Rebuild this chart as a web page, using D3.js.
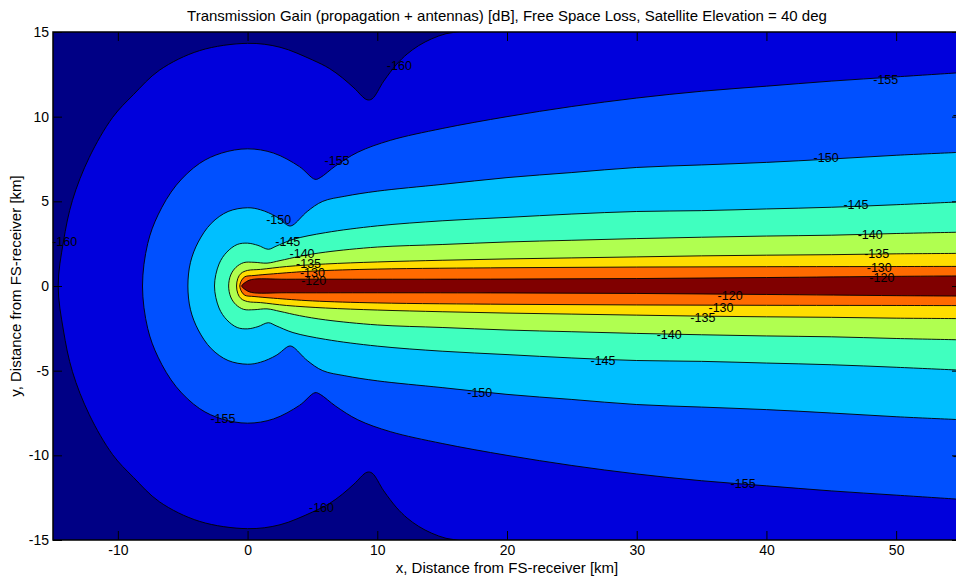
<html>
<head>
    <script src="https://d3js.org/d3.v7.min.js"></script>
    <style>
        body { margin: 0; background: #fff; }
        text { font-family: "Liberation Sans", Arial, sans-serif; }
    </style>
</head>

<body>
    <svg id="chart"></svg>

    <script>
        var W = 956, H = 581;
        var margin = { top: 32, left: 53 };
        var plotW = 908, plotH = 508;

        // contour levels (dB), outermost first
        var levels = [-160, -155, -150, -145, -140, -135, -130, -120];

        // upper half of each contour [x km, y km], from the right edge round to the leftmost point;
        // the lower half is the mirror image about y = 0
        var top160 = [[56, 16], [18, 15.4], [16.5, 15.05], [15.3, 14.9], [14.2, 14.6], [13.2, 14.2], [12.3, 13.7],
            [11.5, 13.1], [10.5, 12.1], [9.6, 11.05], [9.2, 11.0], [8.2, 11.7], [7.3, 12.3], [6.3, 12.85],
            [5, 13.35], [2.5, 14.1], [0, 14.33], [-3.7, 13.9], [-6.8, 12.74], [-8.8, 11.3], [-10.4, 9.96],
            [-12.2, 7.6], [-13.5, 5.06], [-14.2, 2.6], [-14.6, 0]];
        var top155 = [[56, 12.65], [55, 12.6], [50, 12.35], [45, 12.1], [40, 11.8], [35, 11.5], [30, 11.1],
            [25, 10.6], [20, 10.0], [15, 9.3], [11, 8.6], [8.5, 7.9], [6.8, 7.1], [5.6, 6.4], [5.2, 6.3],
            [4.0, 7.05], [2.0, 7.85], [0, 8.1], [-2, 7.85], [-3.7, 7.24], [-5.5, 5.95], [-6.9, 4.2],
            [-7.7, 2.5], [-8.1, 0]];
        var top150 = [[56, 7.95], [55, 7.9], [50, 7.72], [45, 7.5], [40, 7.3], [35, 7.15], [30, 7.0],
            [25, 6.7], [20, 6.4], [15, 6.0], [10, 5.6], [7.5, 5.3], [5.8, 5.0], [4.6, 4.4], [3.5, 3.6],
            [3.2, 3.55], [2.2, 4.1], [1, 4.5], [0, 4.62], [-1.5, 4.4], [-2.8, 3.7], [-3.8, 2.6],
            [-4.4, 1.4], [-4.6, 0]];
        var top145 = [[56, 5.0], [55, 4.97], [50, 4.8], [45, 4.65], [40, 4.55], [35, 4.45], [30, 4.4],
            [25, 4.25], [20, 4.05], [15, 3.85], [10, 3.55], [6, 3.15], [3.5, 2.75], [2.2, 2.35],
            [1.6, 2.17], [0.8, 2.4], [0, 2.53], [-0.8, 2.45], [-1.6, 2.0], [-2.2, 1.3], [-2.55, 0]];
        var top140 = [[56, 3.2], [55, 3.18], [50, 3.1], [45, 3.0], [40, 2.95], [35, 2.88], [30, 2.8],
            [25, 2.7], [20, 2.6], [15, 2.45], [10, 2.3], [6, 2.0], [4, 1.75], [2.5, 1.5], [1.5, 1.35],
            [0.5, 1.4], [-0.3, 1.38], [-0.9, 1.1], [-1.3, 0.65], [-1.46, 0]];
        var top135 = [[56, 1.95], [55, 1.93], [50, 1.9], [45, 1.85], [40, 1.82], [35, 1.78], [30, 1.72],
            [25, 1.66], [20, 1.6], [15, 1.52], [10, 1.42], [6, 1.3], [3, 1.15], [1, 0.98], [0, 0.92],
            [-0.5, 0.75], [-0.75, 0.45], [-0.85, 0]];
        var top130 = [[56, 1.16], [50, 1.15], [40, 1.14], [30, 1.12], [20, 1.08], [10, 1.0], [5, 0.88],
            [2, 0.72], [0.5, 0.62], [-0.2, 0.55], [-0.45, 0.35], [-0.6, 0]];
        var top120 = [[56, 0.6], [50, 0.57], [40, 0.5], [30, 0.44], [20, 0.41], [10, 0.4], [3, 0.4],
            [0.3, 0.38], [-0.2, 0.2], [-0.45, 0]];
        var outlines = [top160, top155, top150, top145, top140, top135, top130, top120];

        // contour labels: value and position in km
        var labels = [
            [-160, 11.7, 13.03], [-160, 5.7, -13.1], [-160, -14.1, 2.6],
            [-155, 6.9, 7.4], [-155, -1.9, -7.8], [-155, 49.2, 12.2], [-155, 38.2, -11.65],
            [-150, 44.6, 7.6], [-150, 2.4, 3.9], [-150, 17.9, -6.3],
            [-145, 3.1, 2.6], [-145, 46.9, 4.8], [-145, 27.4, -4.4],
            [-140, 4.2, 1.9], [-140, 48.0, 3.05], [-140, 32.5, -2.85],
            [-135, 4.7, 1.35], [-135, 48.5, 1.93], [-135, 35.1, -1.85],
            [-130, 5.0, 0.8], [-130, 48.7, 1.1], [-130, 36.5, -1.25],
            [-120, 5.1, 0.35], [-120, 48.9, 0.52], [-120, 37.2, -0.55],
            [-150, 55.35, 10.1], [-120, 55.35, 0.05], [-155, 55.35, -10.0]
        ];

        var xTicks = [-10, 0, 10, 20, 30, 40, 50];
        var yTicks = [-15, -10, -5, 0, 5, 10, 15];

        // fill below the lowest level, then one colour per level
        var bandColors = ["#000085", "#0000DC", "#0050FF", "#00BFFF", "#40FFBF", "#B0FF50", "#FFDD00", "#FF6A00", "#800000"];

        var svg = d3.select("#chart").attr("width", W).attr("height", H);

        var x = d3.scaleLinear().domain([-15, 55]).range([margin.left, margin.left + plotW]);
        var y = d3.scaleLinear().domain([-15, 15]).range([margin.top + plotH, margin.top]);

        svg.append("clipPath").attr("id", "plotclip")
            .append("rect")
                .attr("x", margin.left).attr("y", margin.top)
                .attr("width", plotW).attr("height", plotH);

        var plot = svg.append("g").attr("clip-path", "url(#plotclip)");

        plot.append("rect")
            .attr("x", margin.left).attr("y", margin.top)
            .attr("width", plotW).attr("height", plotH)
            .attr("fill", bandColors[0]);

        var line = d3.line()
            .x(function(d) { return x(d[0]); })
            .y(function(d) { return y(d[1]); })
            .curve(d3.curveCatmullRom.alpha(0.5));

        function closedOutline(top)
        {
            var lower = top.slice().reverse().map(function(p) { return [p[0], -p[1]]; });
            return line(top.concat(lower.slice(1))) + "Z";
        }

        plot.selectAll(".band")
            .data(outlines)
            .enter()
            .append("path").classed("band", true)
                .attr("d", closedOutline)
                .attr("fill", function(d, i) { return bandColors[i + 1]; })
                .attr("stroke", "black")
                .attr("stroke-width", 0.9)
                .attr("stroke-linejoin", "round");

        svg.append("g").selectAll(".clabel")
            .data(labels)
            .enter()
            .append("text").classed("clabel", true)
                .attr("x", function(d) { return x(d[1]); })
                .attr("y", function(d) { return y(d[2]); })
                .attr("dy", "0.36em")
                .attr("text-anchor", "middle")
                .attr("font-size", "12.5px")
                .attr("fill", "black")
                .text(function(d) { return String(d[0]); });

        // axes, ticks pointing inwards
        var fmt = function(d) { return String(d); };

        svg.append("g").attr("transform", "translate(0," + (margin.top + plotH) + ")")
            .call(d3.axisBottom(x).tickValues(xTicks).tickSizeInner(-9).tickSizeOuter(0).tickPadding(5).tickFormat(fmt));
        svg.append("g").attr("transform", "translate(0," + margin.top + ")")
            .call(d3.axisTop(x).tickValues(xTicks).tickSizeInner(-9).tickSizeOuter(0).tickFormat(""));
        svg.append("g").attr("transform", "translate(" + margin.left + ",0)")
            .call(d3.axisLeft(y).tickValues(yTicks).tickSizeInner(-9).tickSizeOuter(0).tickPadding(4).tickFormat(fmt));
        svg.append("g").attr("transform", "translate(" + (margin.left + plotW) + ",0)")
            .call(d3.axisRight(y).tickValues(yTicks).tickSizeInner(-9).tickSizeOuter(0).tickFormat(""));

        svg.selectAll(".domain").remove();
        svg.selectAll(".tick line").attr("stroke", "black");
        svg.selectAll(".tick text")
            .attr("font-size", "14px")
            .attr("fill", "black")
            .style("font-family", "'Liberation Sans', Arial, sans-serif");

        svg.append("rect")
            .attr("x", margin.left).attr("y", margin.top)
            .attr("width", plotW).attr("height", plotH)
            .attr("fill", "none").attr("stroke", "black").attr("stroke-width", 1.5);

        svg.append("text")
            .attr("x", margin.left + plotW / 2).attr("y", 21)
            .attr("text-anchor", "middle").attr("font-size", "15px")
            .text("Transmission Gain (propagation + antennas) [dB], Free Space Loss, Satellite Elevation = 40 deg");

        svg.append("text")
            .attr("x", margin.left + plotW / 2).attr("y", 573)
            .attr("text-anchor", "middle").attr("font-size", "15px")
            .text("x, Distance from FS-receiver [km]");

        svg.append("text")
            .attr("transform", "translate(21," + (margin.top + plotH / 2) + ") rotate(-90)")
            .attr("text-anchor", "middle").attr("font-size", "15px")
            .text("y, Distance from FS-receiver [km]");
    </script>
</body>
</html>
